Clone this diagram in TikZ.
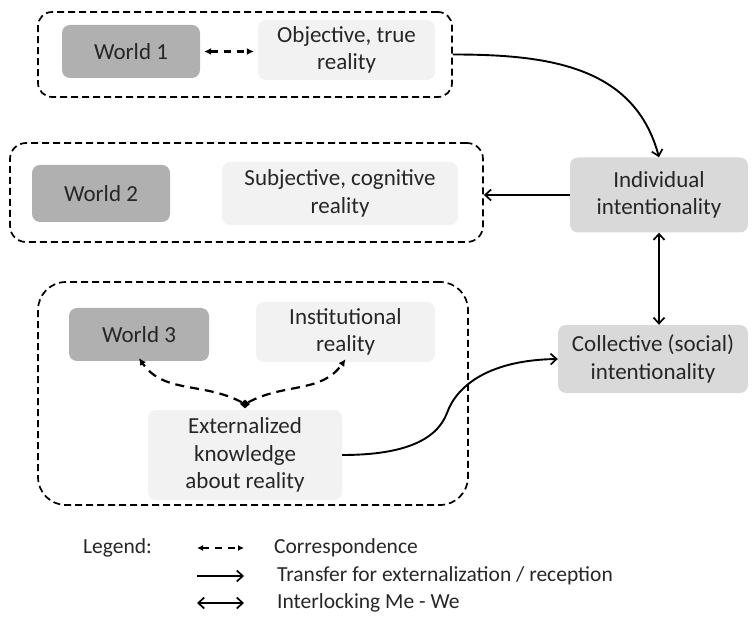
\documentclass[tikz,border=0pt]{standalone}
\usepackage{fontspec}
\setmainfont{Carlito}
\usetikzlibrary{arrows.meta,shapes.geometric}
\definecolor{worldgray}{HTML}{B0B0B0}
\definecolor{intentgray}{HTML}{D9D9D9}
\definecolor{realitygray}{HTML}{F2F2F2}
\definecolor{inkgray}{HTML}{262626}
\tikzset{
  basebox/.style={rounded corners=8pt, inner sep=0pt, align=center,
    font=\fontsize{23}{27.5}\selectfont, text=inkgray},
  worldbox/.style={basebox, fill=worldgray},
  realitybox/.style={basebox, fill=realitygray},
  intentbox/.style={basebox, fill=intentgray},
  groupbox/.style={draw, dashed, dash pattern=on 7pt off 4pt, line width=1.7pt, inner sep=0pt},
  barb/.tip={Straight Barb[length=6pt,width=11pt,line width=1.7pt]},
  smalltri/.tip={Latex[length=7pt,width=7pt]},
  transfer/.style={line width=1.9pt, -barb},
  interlock/.style={line width=1.9pt, barb-barb},
  corresp/.style={line width=2.2pt, dash pattern=on 7pt off 6pt, smalltri-smalltri},
  correspone/.style={line width=2.2pt, dash pattern=on 9pt off 6pt, -smalltri},
  legendtext/.style={anchor=west, inner sep=0pt, font=\fontsize{21.5}{24}\selectfont, text=inkgray}
}
\begin{document}
\begin{tikzpicture}[x=1pt,y=-1pt]
\useasboundingbox (0,0) rectangle (752,617);

% World 1 group
\node[groupbox, rounded corners=14pt, minimum width=414pt, minimum height=85pt] (g1) at (245,54.5) {};
\node[worldbox, minimum width=138pt, minimum height=53pt] (w1) at (131,51.5) {World 1};
\node[realitybox, minimum width=177pt, minimum height=60pt] (obj) at (346.5,50) {Objective, true\\reality};

% World 2 group
\node[groupbox, rounded corners=16pt, minimum width=473pt, minimum height=99pt] (g2) at (246.5,192.5) {};
\node[worldbox, minimum width=138pt, minimum height=57pt] (w2) at (101,193.5) {World 2};
\node[realitybox, minimum width=236pt, minimum height=63pt] (subj) at (340,193.5) {Subjective, cognitive\\reality};

% World 3 group
\node[groupbox, rounded corners=28pt, minimum width=430pt, minimum height=223pt] (g3) at (253,393.5) {};
\node[worldbox, minimum width=140pt, minimum height=53pt] (w3) at (139,334.5) {World 3};
\node[realitybox, minimum width=179pt, minimum height=60pt] (inst) at (345.5,332) {Institutional\\reality};
\node[realitybox, minimum width=194pt, minimum height=90pt] (ext) at (245,455) {Externalized\\knowledge\\about reality};
\node[diamond, fill=black, inner sep=0pt, minimum width=10pt, minimum height=9pt] (dia) at (245,404) {};

% Intentionality
\node[intentbox, minimum width=178pt, minimum height=75pt] (indiv) at (659,195) {Individual\\intentionality};
\node[intentbox, minimum width=190pt, minimum height=68pt] (coll) at (653,359) {Collective (social)\\intentionality};

% Connectors
\draw[corresp] ([xshift=4pt]w1.east) -- ([xshift=-4pt]w1.east -| obj.west);
\draw[correspone] (dia) to[out=152, in=-55] ([yshift=3pt]w3.south);
\draw[correspone] (dia) to[out=28, in=-125] ([yshift=3pt]inst.south);
\draw[transfer] (g1.east) to[out=0, in=105, looseness=1.05] (indiv.north);
\draw[transfer] (indiv.west) -- (indiv.west -| g2.east);
\draw[interlock] (indiv.south) -- (indiv.south |- coll.north);
\draw[transfer] (ext.east) .. controls (400,455) and (436,442) .. (447,413)
  .. controls (457,385) and (490,360) .. (coll.west);

% Legend
\node[legendtext] (lg) at (83,548) {Legend:};
\coordinate (la1) at (197,548); \coordinate (lb1) at (244,548);
\coordinate (la2) at (197,576); \coordinate (lb2) at (244,576);
\coordinate (la3) at (197,603); \coordinate (lb3) at (244,603);
\draw[line width=1.8pt, dash pattern=on 7pt off 6pt, {Latex[length=6pt,width=6pt]}-{Latex[length=6pt,width=6pt]}] (la1) -- (lb1);
\draw[transfer] (la2) -- (lb2);
\draw[interlock] (la3) -- (lb3);
\node[legendtext] (t1) at (274,548) {Correspondence};
\node[legendtext] (t2) at (277,576) {Transfer for externalization / reception};
\node[legendtext] (t3) at (277,603) {Interlocking Me - We};
\end{tikzpicture}
\end{document}
